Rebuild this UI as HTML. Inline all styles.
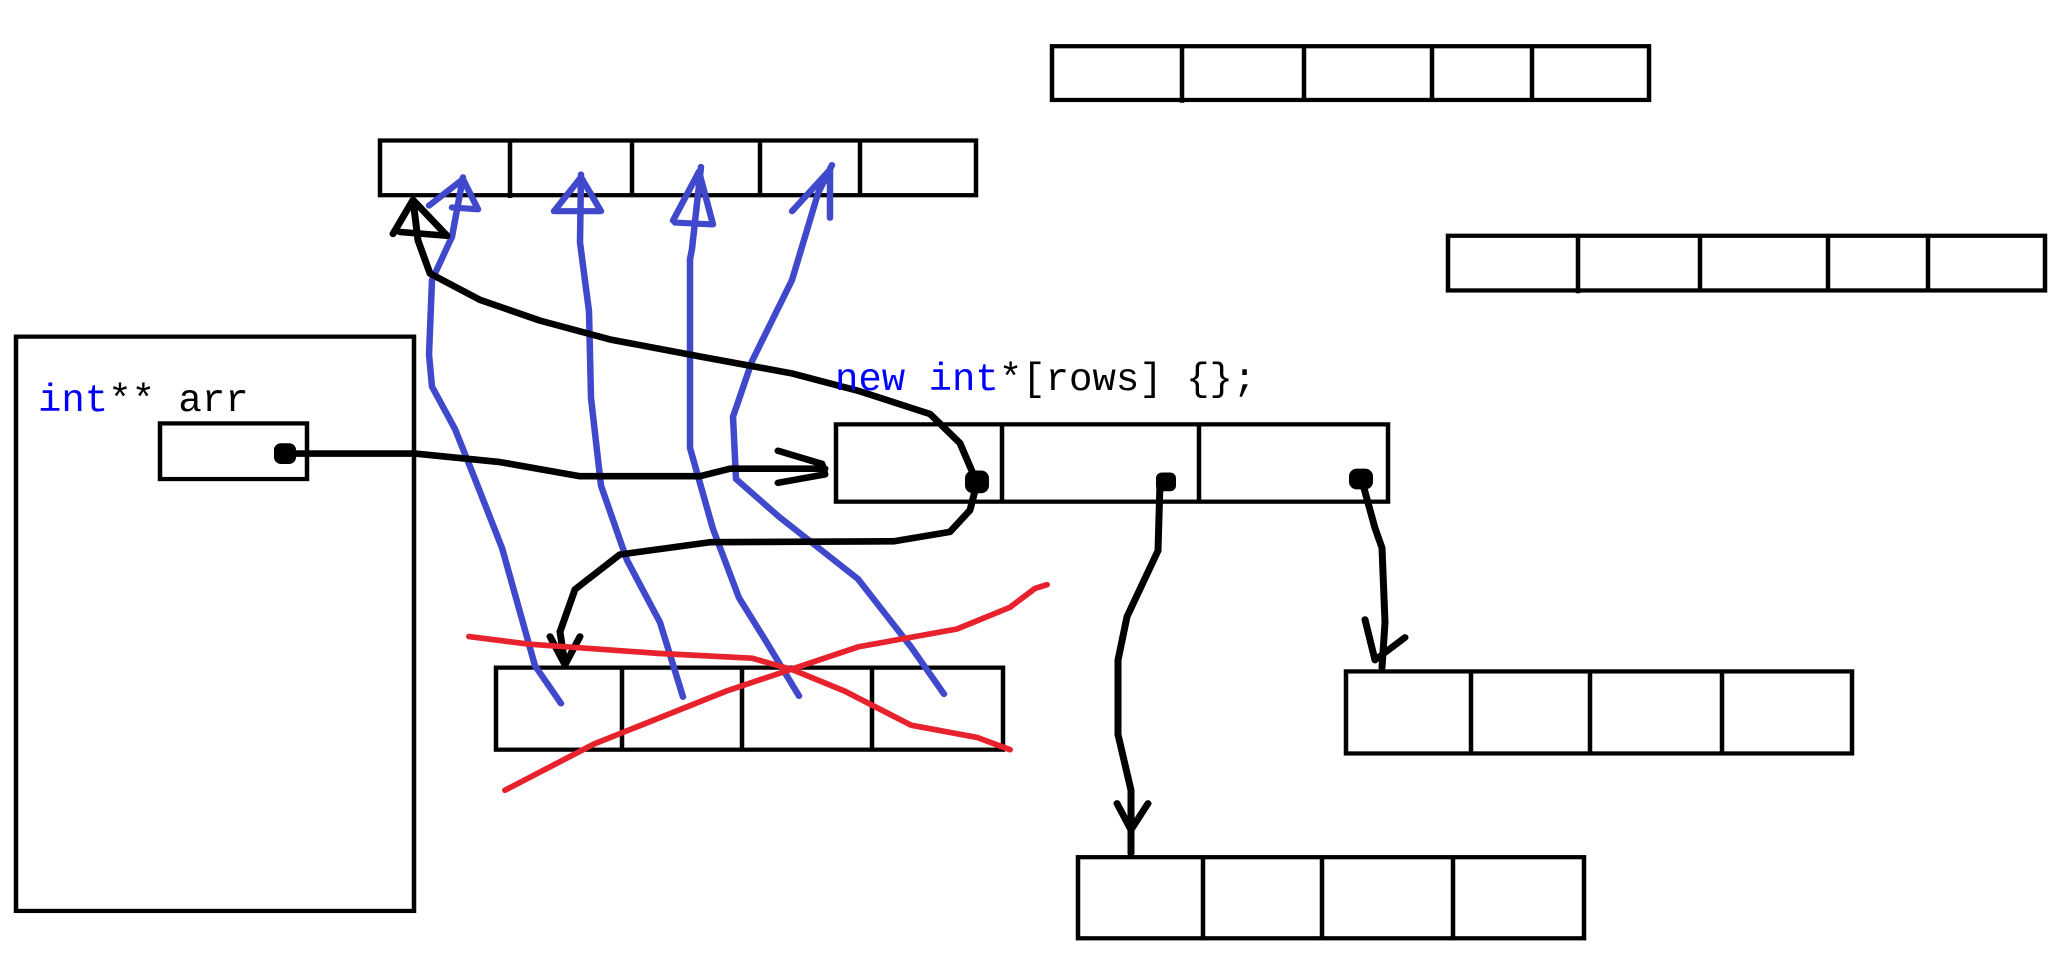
<!DOCTYPE html>
<html><head><meta charset="utf-8"><style>
html,body{margin:0;padding:0;background:#fff;}
svg{display:block;}
text{font-family:"Liberation Mono",monospace;font-size:39px;}
</style></head><body>
<svg width="2070" height="976" viewBox="0 0 2070 976">
<g transform="scale(1,0.943)">
<g fill="none" stroke="#000" stroke-width="4.5">
  <g><rect x="380" y="149" width="596" height="58"/><path d="M510 149V210M632 149V207M760 149V207M860 149V207"/></g>
  <g><rect x="1052" y="49" width="597" height="57"/><path d="M1182 49V109M1304 49V106M1432 49V106M1532 49V106"/></g>
  <g><rect x="1448" y="250" width="597" height="58"/><path d="M1578 250V311M1700 250V308M1828 250V308M1928 250V308"/></g>
  <g><rect x="16" y="357" width="398" height="609"/></g>
  <g><rect x="160" y="449" width="147" height="59"/></g>
  <g><rect x="836" y="450" width="552" height="82"/><path d="M1002 450V532M1199 450V532"/></g>
  <g><rect x="496" y="708" width="507" height="87"/><path d="M622 708V795M742 708V795M872 708V795"/></g>
  <g><rect x="1346" y="712" width="506" height="87"/><path d="M1471 712V799M1590 712V799M1722 712V799"/></g>
  <g><rect x="1078" y="909" width="506" height="86"/><path d="M1203 909V995M1322 909V995M1453 909V995"/></g>
</g>
<g fill="none" stroke="#4048cc" stroke-width="6.5" stroke-linecap="round" stroke-linejoin="round">
  <path d="M561 746L535 706L521 653L502 581L475 508L455 455L432 410L429 376L432 297L452 251L463 188M429 218L463 190L478 222L452 220"/>
  <path d="M683 739L660 660L627 594L601 515L591 422L589 330L580 257L581 185M554 224L581 188L601 224L556 224"/>
  <path d="M799 738L766 680L739 634L713 561L690 475L690 275L692 264L701 177M673 234L699 182L713 238L675 236"/>
  <path d="M944 736L911 686L858 614L779 548L736 508L733 442L752 383L792 297L818 205L832 175M792 224L830 180L830 231"/>
</g>
<g fill="none" stroke="#000" stroke-width="7" stroke-linecap="round" stroke-linejoin="round">
  <path d="M285 481L415 481L500 490L580 505L700 505L730 497L825 497M778 478L822 492L825 503L778 512"/>
  <path d="M977 512L960 470L930 439L860 415L792 396L700 378L610 360L540 340L480 318L430 290L418 255L413 212M393 248L413 212L447 250L400 246"/>
  <path d="M977 512L970 541L950 564L894 574L710 575L620 588L575 625L560 670L565 705M550 675L565 705L580 675"/>
  <path d="M1160 512L1158 584L1127 654L1118 700L1118 779L1131 838L1131 905M1117 852L1131 880L1148 852"/>
  <path d="M1362 510L1375 560L1382 581L1385 660L1382 708M1365 657L1375 700L1405 676"/>
</g>
<g fill="#000">
  <rect x="274" y="470" width="22" height="22" rx="7"/>
  <rect x="965" y="499" width="24" height="24" rx="8"/>
  <rect x="1156" y="501" width="20" height="20" rx="6"/>
  <rect x="1349" y="497" width="24" height="22" rx="8"/>
</g>
<g fill="none" stroke="#e8222c" stroke-width="6" stroke-linecap="round" stroke-linejoin="round">
  <path d="M469 675L528 683L660 693L752 698L792 710L845 733L911 769L977 782L1010 795"/>
  <path d="M505 838L594 789L726 733L858 686L957 667L1010 644L1035 624L1047 620"/>
</g>
</g>
<text x="38" y="411"><tspan fill="#0000ff">int</tspan><tspan fill="#000">** arr</tspan></text>
<text x="835" y="390"><tspan fill="#0000ff">new</tspan><tspan fill="#000"> </tspan><tspan fill="#0000ff">int</tspan><tspan fill="#000">*[rows] {};</tspan></text>
</svg>
</body></html>
